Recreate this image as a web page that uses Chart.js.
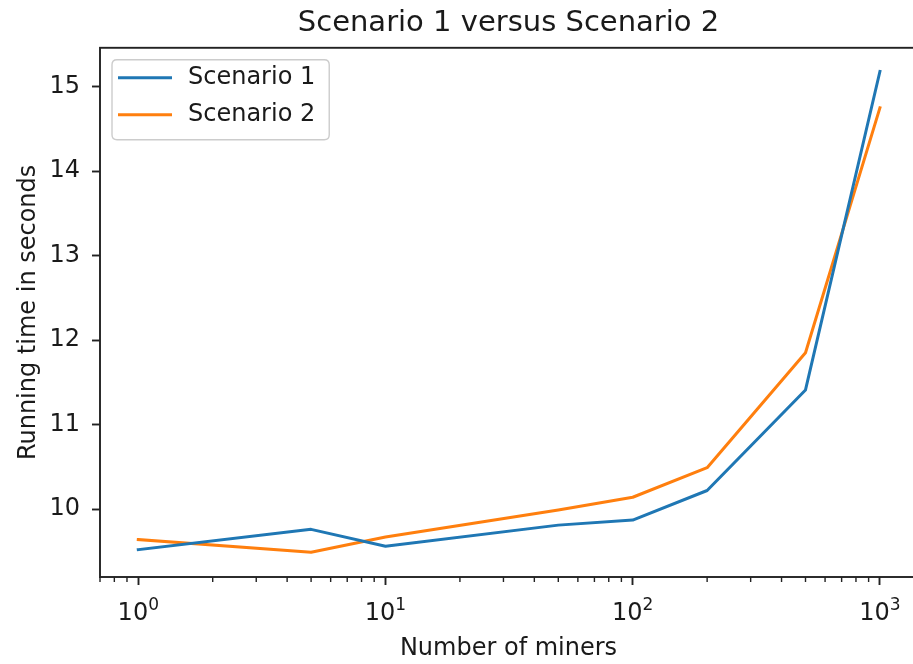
<!DOCTYPE html>
<html>
<head>
<meta charset="utf-8">
<title>Scenario 1 versus Scenario 2</title>
<script src="https://cdn.jsdelivr.net/npm/chart.js@4/dist/chart.umd.min.js"></script>
<style>
  html, body { margin: 0; padding: 0; background: #ffffff; overflow: hidden; }
  #wrap { width: 913px; height: 664px; overflow: hidden; position: relative; }
  canvas { display: block; }
</style>
</head>
<body>
<div id="wrap"><canvas id="chart" width="918" height="664"></canvas></div>
<script>
// Measured running times (seconds) for each miner count
const miners = [1, 5, 10, 50, 100, 200, 500, 1000];
const scenario1 = [9.52, 9.76, 9.56, 9.81, 9.87, 10.22, 11.41, 15.18];
const scenario2 = [9.64, 9.49, 9.67, 9.99, 10.14, 10.49, 11.85, 14.75];

const seriesNames = ['Scenario 1', 'Scenario 2'];
const seriesColors = ['#1f77b4', '#ff7f0e'];

const yTicks = [10, 11, 12, 13, 14, 15];
const xMajorTicks = [1, 10, 100, 1000];
const xTickBase = '10';
const xTickExponents = ['0', '1', '2', '3'];

const titleText = 'Scenario 1 versus Scenario 2';
const xTitle = 'Number of miners';
const yTitle = 'Running time in seconds';

const FONT = '"DejaVu Sans", "Liberation Sans", sans-serif';
const INK = '#1a1a1a';
const SPINE = '#222222';

// Axes frame, minor log ticks, power-of-ten labels and an in-axes legend box
const axesDecor = {
  id: 'axesDecor',
  afterDraw(chart) {
    const ctx = chart.ctx;
    const a = chart.chartArea;
    const xs = chart.scales.x;

    ctx.save();
    // minor ticks on the log axis
    ctx.strokeStyle = SPINE;
    ctx.lineWidth = 1.4;
    ctx.beginPath();
    for (let k = -1; k <= 3; k++) {
      for (let m = 2; m <= 9; m++) {
        const v = m * Math.pow(10, k);
        if (v < xs.min || v > xs.max) continue;
        const px = xs.getPixelForValue(v);
        ctx.moveTo(px, a.bottom);
        ctx.lineTo(px, a.bottom + 5);
      }
    }
    ctx.stroke();

    // power-of-ten tick labels with raised exponents
    ctx.fillStyle = INK;
    ctx.textBaseline = 'alphabetic';
    ctx.textAlign = 'left';
    const baseY = a.bottom + 43;
    xs.ticks.forEach((t, i) => {
      const px = xs.getPixelForValue(t.value);
      ctx.font = '24px ' + FONT;
      const wb = ctx.measureText(xTickBase).width;
      ctx.font = '17px ' + FONT;
      const we = ctx.measureText(xTickExponents[i]).width;
      const x0 = px - (wb + we) / 2;
      ctx.font = '24px ' + FONT;
      ctx.fillText(xTickBase, x0, baseY);
      ctx.font = '17px ' + FONT;
      ctx.fillText(xTickExponents[i], x0 + wb, baseY - 10);
    });

    // frame
    ctx.lineWidth = 1.9;
    ctx.strokeStyle = SPINE;
    ctx.strokeRect(a.left, a.top, a.right - a.left, a.bottom - a.top);

    // legend
    const sets = chart.data.datasets;
    ctx.font = '24px ' + FONT;
    const tw = Math.max(...sets.map(d => ctx.measureText(d.label).width));
    const bx = a.left + 12, by = a.top + 12;
    const bw = 76 + tw + 14, bh = 80, r = 5;
    ctx.beginPath();
    ctx.moveTo(bx + r, by);
    ctx.lineTo(bx + bw - r, by);
    ctx.quadraticCurveTo(bx + bw, by, bx + bw, by + r);
    ctx.lineTo(bx + bw, by + bh - r);
    ctx.quadraticCurveTo(bx + bw, by + bh, bx + bw - r, by + bh);
    ctx.lineTo(bx + r, by + bh);
    ctx.quadraticCurveTo(bx, by + bh, bx, by + bh - r);
    ctx.lineTo(bx, by + r);
    ctx.quadraticCurveTo(bx, by, bx + r, by);
    ctx.closePath();
    ctx.fillStyle = 'rgba(255,255,255,0.8)';
    ctx.fill();
    ctx.lineWidth = 1.4;
    ctx.strokeStyle = '#cccccc';
    ctx.stroke();

    sets.forEach((d, i) => {
      const y = by + 18 + i * 37;
      ctx.beginPath();
      ctx.moveTo(bx + 6, y);
      ctx.lineTo(bx + 60, y);
      ctx.lineWidth = 3;
      ctx.lineCap = 'butt';
      ctx.strokeStyle = d.borderColor;
      ctx.stroke();
      ctx.fillStyle = INK;
      ctx.textBaseline = 'middle';
      ctx.textAlign = 'left';
      ctx.fillText(d.label, bx + 76, y);
    });
    ctx.restore();
  }
};

const seriesValues = [scenario1, scenario2];

new Chart(document.getElementById('chart'), {
  type: 'line',
  data: {
    datasets: seriesValues.map((vals, i) => ({
      label: seriesNames[i],
      data: miners.map((m, j) => ({ x: m, y: vals[j] })),
      borderColor: seriesColors[i],
      backgroundColor: seriesColors[i],
      borderWidth: 3,
      borderCapStyle: 'square',
      borderJoinStyle: 'round',
      pointRadius: 0,
      tension: 0,
      fill: false
    }))
  },
  options: {
    responsive: false,
    animation: false,
    devicePixelRatio: 1,
    layout: { padding: { top: 0, right: 1, bottom: 0, left: 0 } },
    plugins: {
      legend: { display: false },
      tooltip: { enabled: false },
      title: {
        display: true,
        fullSize: false,
        text: titleText,
        color: INK,
        font: { family: FONT, size: 29, weight: 'normal' },
        padding: { top: 6, bottom: 7 }
      }
    },
    scales: {
      x: {
        type: 'logarithmic',
        min: Math.pow(10, -0.15),
        max: Math.pow(10, 3.15),
        afterBuildTicks: s => { s.ticks = xMajorTicks.map(v => ({ value: v, major: true })); },
        afterFit: s => { s.height = 87; },
        ticks: {
          autoSkip: false,
          maxRotation: 0,
          padding: 10,
          color: INK,
          font: { family: FONT, size: 24 },
          callback: () => ''
        },
        grid: {
          drawOnChartArea: false,
          drawTicks: true,
          tickLength: 8,
          tickWidth: 1.9,
          tickColor: SPINE
        },
        border: { display: false },
        title: {
          display: true,
          text: xTitle,
          color: INK,
          font: { family: FONT, size: 24 },
          padding: { top: 0, bottom: 1 }
        }
      },
      y: {
        type: 'linear',
        min: 9.196,
        max: 15.46,
        afterBuildTicks: s => { s.ticks = yTicks.map(v => ({ value: v })); },
        afterFit: s => { s.width = 100; },
        ticks: {
          padding: 12,
          color: INK,
          font: { family: FONT, size: 24 },
          callback: v => String(v)
        },
        grid: {
          drawOnChartArea: false,
          drawTicks: true,
          tickLength: 8,
          tickWidth: 1.9,
          tickColor: SPINE
        },
        border: { display: false },
        title: {
          display: true,
          text: yTitle,
          color: INK,
          font: { family: FONT, size: 24 },
          padding: { top: 14, bottom: 0 }
        }
      }
    }
  },
  plugins: [axesDecor]
});
</script>
</body>
</html>
